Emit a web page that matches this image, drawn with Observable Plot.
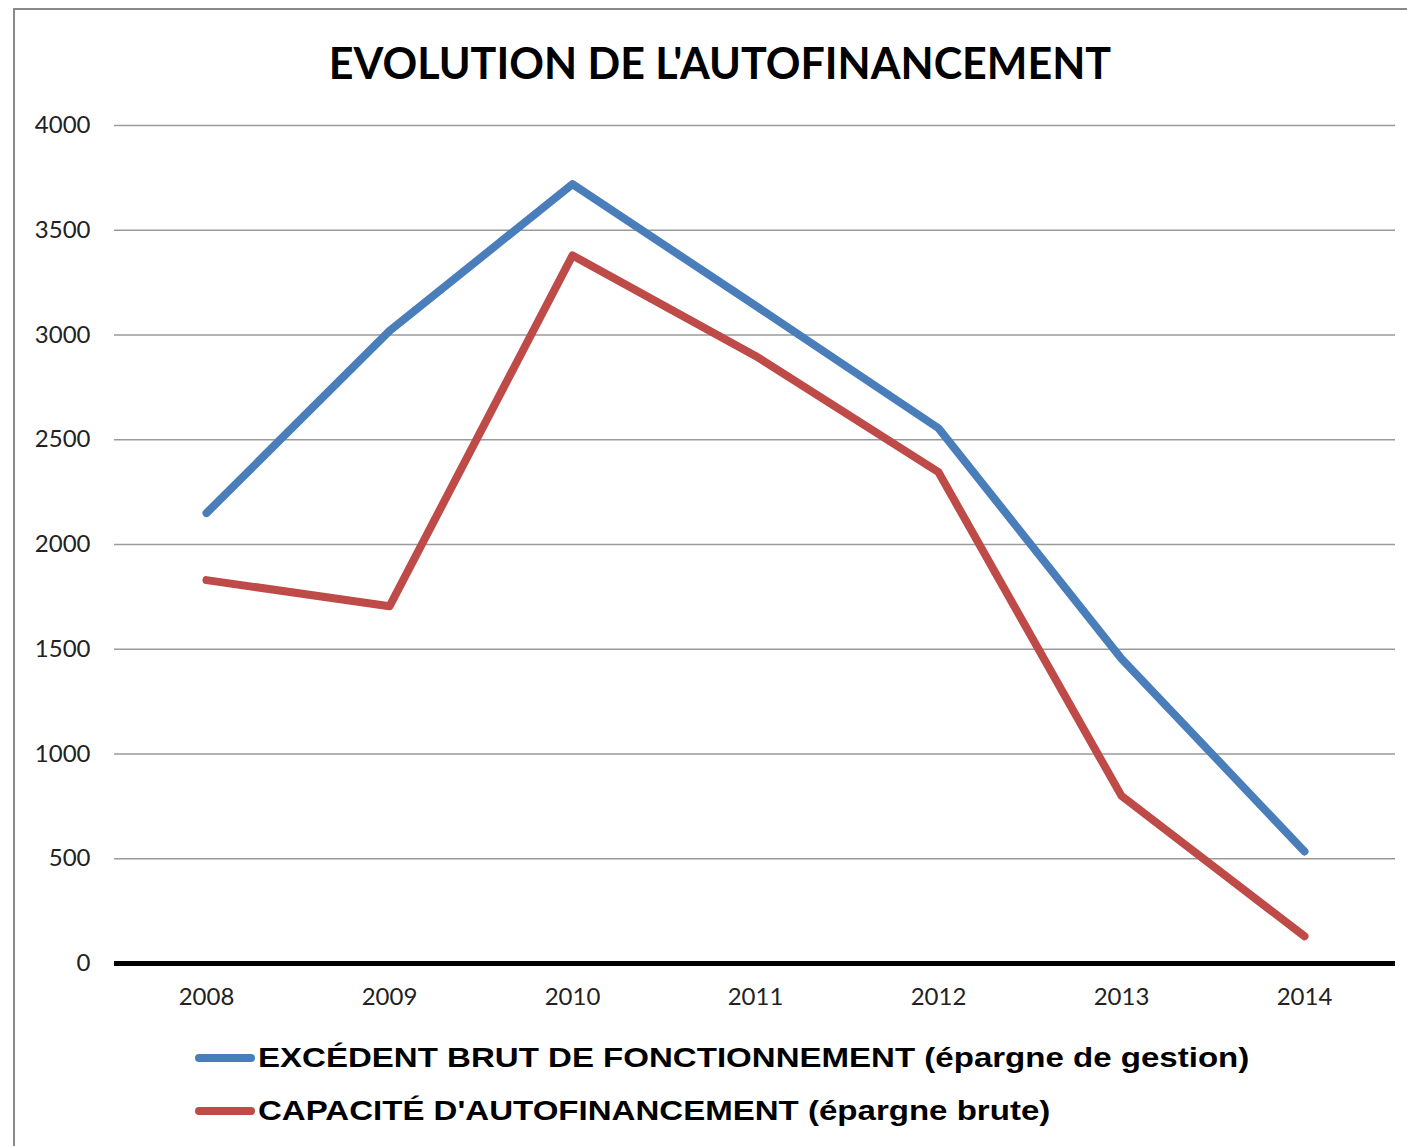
<!DOCTYPE html>
<html>
<head>
<meta charset="utf-8">
<script src="https://cdn.jsdelivr.net/npm/d3@7"></script>
<script src="https://cdn.jsdelivr.net/npm/@observablehq/plot@0.6"></script>
<style>
  html, body { margin: 0; padding: 0; background: #fff; width: 1407px; height: 1146px; overflow: hidden; position: relative; }
  .frame { position: absolute; left: 13px; top: 8px; width: 1500px; height: 1300px; border-left: 2px solid #8a8a8a; border-top: 2px solid #8a8a8a; }
  #title { position: absolute; left: 0; width: 1440px; top: 41px; text-align: center; font-family: Lato, sans-serif; font-weight: 700; font-size: 43px; color: #000; line-height: 1; }
  #chart { position: absolute; left: 0; top: 0; }
  .legend { position: absolute; left: 195px; font-family: "Liberation Sans", Arial, sans-serif; font-weight: 700; font-size: 28px; color: #000; line-height: 1; display: flex; align-items: center; white-space: nowrap; }
  .legend span { display: inline-block; transform: scaleX(1.18); transform-origin: left center; }
  .sw { width: 60px; height: 8px; border-radius: 4px; margin-right: 3px; }
</style>
</head>
<body>
<div class="frame"></div>
<div id="chart"></div>
<div id="title">EVOLUTION DE L'AUTOFINANCEMENT</div>
<div id="legend"></div>
<script>
const years = ["2008", "2009", "2010", "2011", "2012", "2013", "2014"];
const seriesNames = [
  "EXCÉDENT BRUT DE FONCTIONNEMENT (épargne de gestion)",
  "CAPACITÉ D'AUTOFINANCEMENT (épargne brute)"
];
const excedentBrut = [2150, 3020, 3720, 3140, 2555, 1455, 535];
const capaciteAutofin = [1830, 1705, 3380, 2900, 2345, 800, 130];
const seriesColors = ["#4a7ebb", "#be4b48"];
const yTicks = [0, 500, 1000, 1500, 2000, 2500, 3000, 3500, 4000];

const data = [];
years.forEach((y, i) => {
  data.push({ year: y, value: excedentBrut[i], series: seriesNames[0] });
  data.push({ year: y, value: capaciteAutofin[i], series: seriesNames[1] });
});

const chart = Plot.plot({
  width: 1407,
  height: 1030,
  marginLeft: 114,
  marginRight: 12,
  marginTop: 125,
  marginBottom: 67,
  style: { fontFamily: "Lato, sans-serif", fontSize: "24px", color: "#222", background: "transparent" },
  x: { type: "point", domain: years, padding: 0.5, label: null },
  y: { domain: [0, 4000], label: null },
  color: { domain: seriesNames, range: seriesColors },
  marks: [
    Plot.ruleY(yTicks.filter(d => d > 0), { stroke: "#9a9a9a", strokeWidth: 1.3, strokeOpacity: 1 }),
    Plot.axisY({ ticks: yTicks, tickFormat: d3.format("d"), tickSize: 0, tickPadding: 24, label: null, fontSize: 24 }),
    Plot.axisX({ tickSize: 0, tickPadding: 24, label: null, fontSize: 24 }),
    Plot.line(data, { x: "year", y: "value", z: "series", stroke: "series", strokeWidth: 8, strokeLinecap: "round", strokeLinejoin: "round" }),
    Plot.ruleY([0], { stroke: "#000", strokeWidth: 5 })
  ]
});
document.getElementById("chart").appendChild(chart);

const legend = document.getElementById("legend");
const legendTops = [1044, 1097];
seriesNames.forEach((name, i) => {
  const row = document.createElement("div");
  row.className = "legend";
  row.style.top = legendTops[i] + "px";
  const sw = document.createElement("div");
  sw.className = "sw";
  sw.style.background = seriesColors[i];
  const t = document.createElement("span");
  t.textContent = name;
  row.appendChild(sw);
  row.appendChild(t);
  legend.appendChild(row);
});
</script>
</body>
</html>
